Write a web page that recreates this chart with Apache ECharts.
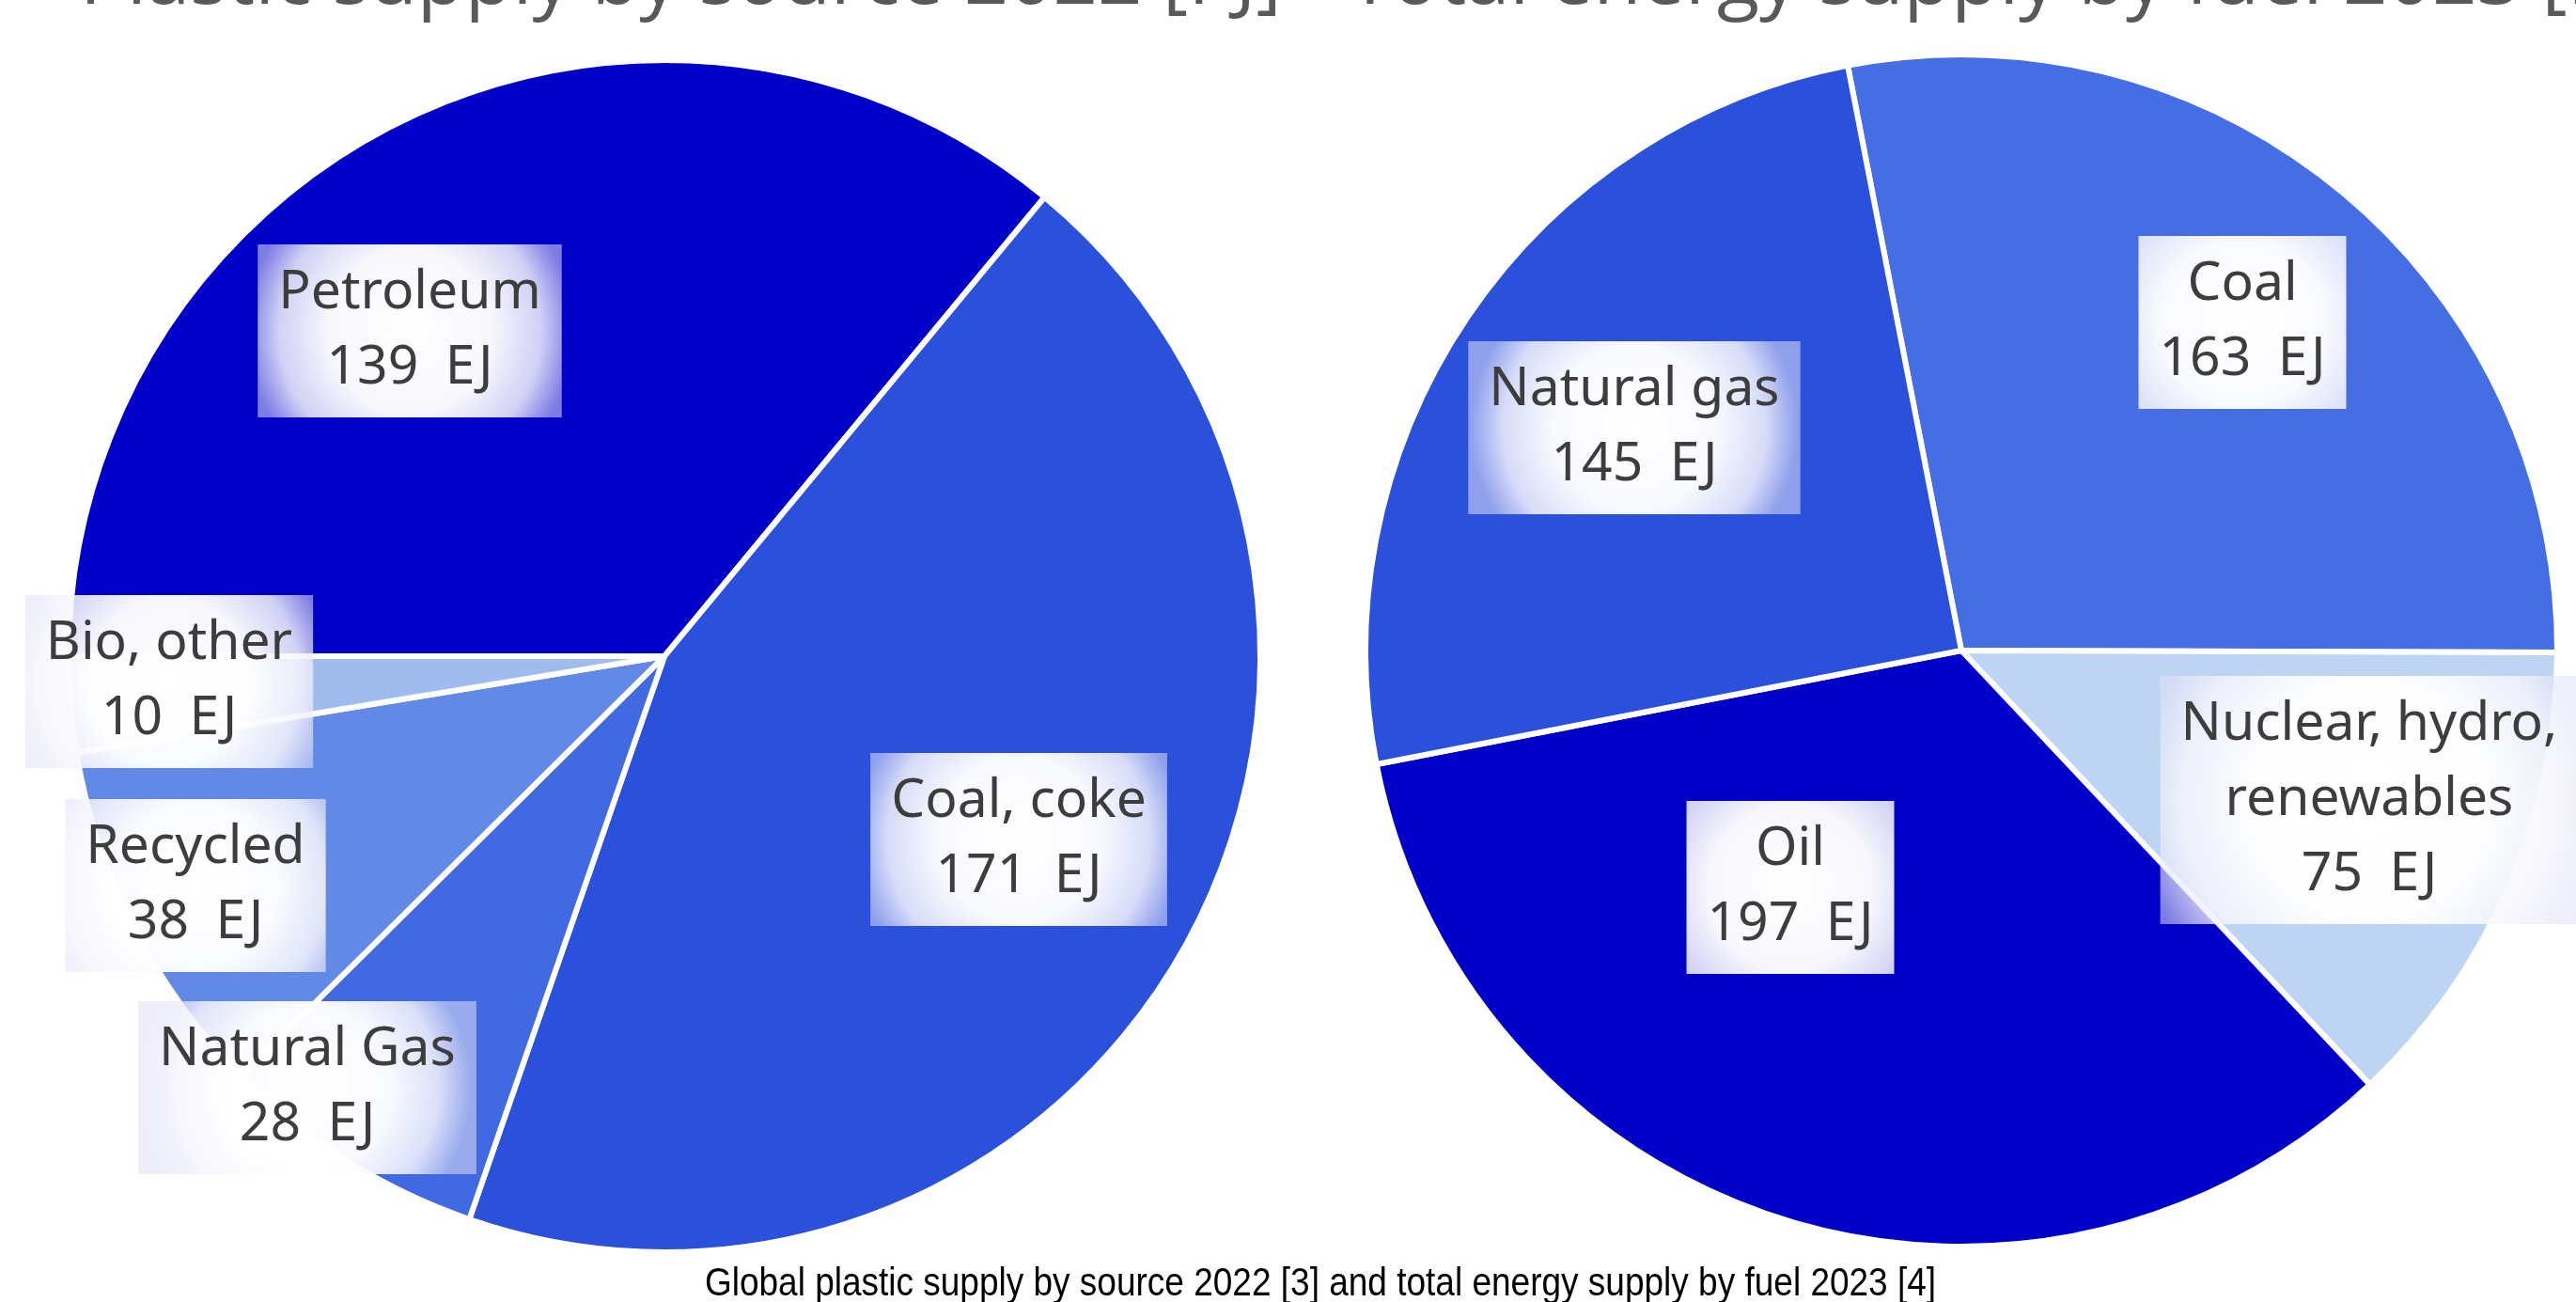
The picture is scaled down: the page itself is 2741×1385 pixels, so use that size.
<!DOCTYPE html>
<html>
<head>
<meta charset="utf-8">
<script src="https://cdn.jsdelivr.net/npm/echarts@6/dist/echarts.min.js"></script>
<style>
html,body{margin:0;padding:0;background:#ffffff;}
#chart{width:2741px;height:1385px;}
</style>
</head>
<body>
<div id="chart"></div>
<script>
// ---- data ----
const plasticNames  = ['Petroleum', 'Coal, coke', 'Natural Gas', 'Recycled', 'Bio, other'];
const plasticValues = [139, 171, 28, 38, 10];
const energyNames   = ['Coal', 'Nuclear, hydro,\nrenewables', 'Oil', 'Natural gas'];
const energyValues  = [163, 75, 197, 145];
const unit = 'EJ';
const plasticTitle = 'Plastic supply by source 2022 [PJ]';
const energyTitle  = 'Total energy supply by fuel 2023 [EJ]';
const captionText  = 'Global plastic supply by source 2022 [3] and total energy supply by fuel 2023 [4]';

// ---- styles / layout (kept apart from data) ----
const plasticColors = ['#0000c8', '#2a50dc', '#4169e1', '#6389e6', '#a0bcee'];
const energyColors  = ['#466ee4', '#bdd5f2', '#0000c8', '#2a50dc'];
const plasticLabelPos = [[436, 352], [1084, 893], [327, 1157], [208, 942], [180, 725]];
const energyLabelPos  = [[2386, 343], [2521, 851], [1905, 944], [1739, 455]];

const chart = echarts.init(document.getElementById('chart'), null, {renderer: 'canvas'});

const labelBg = {
  type: 'radial', x: 0.5, y: 0.5, r: 0.95,
  colorStops: [
    {offset: 0, color: 'rgba(255,255,255,1)'},
    {offset: 0.5, color: 'rgba(255,255,255,0.97)'},
    {offset: 0.8, color: 'rgba(245,245,253,0.85)'},
    {offset: 1, color: 'rgba(225,225,248,0.55)'}
  ]
};

function buildData(names, values, colors) {
  return names.map((n, i) => ({name: n, value: values[i], itemStyle: {color: colors[i]}}));
}

function pieSeries(names, values, colors, center, startAngle, positions) {
  return {
    type: 'pie',
    center: center,
    radius: 634,
    startAngle: startAngle,
    clockwise: true,
    avoidLabelOverlap: false,
    silent: true,
    itemStyle: {borderColor: '#ffffff', borderWidth: 6},
    label: {
      show: true,
      position: 'inside',
      formatter: p => p.name + '\n' + p.value + '\u2002' + unit,
      fontFamily: '"Noto Sans", "Open Sans", sans-serif',
      fontSize: 57,
      lineHeight: 80,
      color: '#3d3d3d',
      align: 'center',
      backgroundColor: labelBg,
      padding: [12, 22]
    },
    labelLine: {show: false},
    labelLayout: function (params) {
      const p = positions[params.dataIndex];
      return {x: p[0], y: p[1], align: 'center', verticalAlign: 'middle'};
    },
    emphasis: {disabled: true},
    data: buildData(names, values, colors)
  };
}

chart.setOption({
  animation: false,
  backgroundColor: '#ffffff',
  graphic: [
    {
      type: 'text', x: 85, y: -20,
      style: {text: plasticTitle, font: '83px "Open Sans", sans-serif', fill: '#595959',
              textAlign: 'left', textVerticalAlign: 'middle'}
    },
    {
      type: 'text', x: 1435, y: -20,
      style: {text: energyTitle, font: '83px "Open Sans", sans-serif', fill: '#595959',
              textAlign: 'left', textVerticalAlign: 'middle'}
    },
    {
      type: 'text', x: 1405, y: 1366, scaleX: 1.0, scaleY: 1.15,
      style: {text: captionText, font: '37px "Liberation Sans Narrow", "Liberation Sans", sans-serif', fill: '#000000',
              textAlign: 'center', textVerticalAlign: 'middle'}
    }
  ],
  series: [
    pieSeries(plasticNames, plasticValues, plasticColors, [707, 698], 180, plasticLabelPos),
    pieSeries(energyNames, energyValues, energyColors, [2087, 692], 101, energyLabelPos)
  ]
});
</script>
</body>
</html>
